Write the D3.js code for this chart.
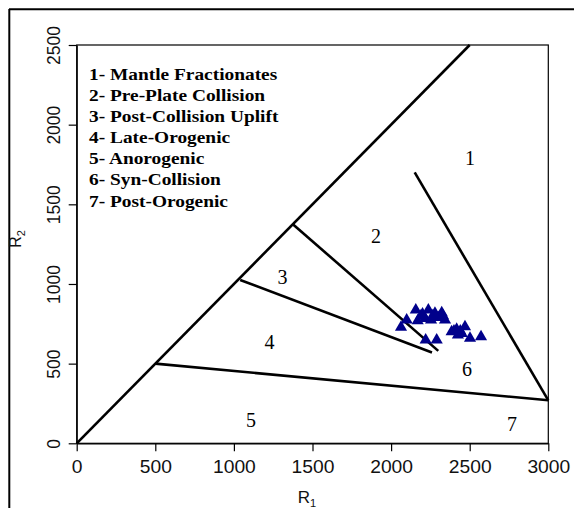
<!DOCTYPE html>
<html>
<head>
<meta charset="utf-8">
<script src="https://cdn.jsdelivr.net/npm/d3@7"></script>
<style>
  html, body { margin: 0; padding: 0; background: #fff; }
  svg { display: block; }
</style>
</head>
<body>
<svg id="chart" width="574" height="508"></svg>
<script>
// R1-R2 multicationic discrimination diagram (Batchelor & Bowden)

// Axis tick values
const xTicks = [0, 500, 1000, 1500, 2000, 2500, 3000];
const yTicks = [0, 500, 1000, 1500, 2000, 2500];

// Field boundary lines, as [R1, R2] vertices
const diagonalLine = [[0, 0], [2500, 2500]];
const mantleLine = [[2150, 1700], [3000, 270]];
const anorogenicLine = [[500, 500], [3000, 270]];
const prePlateLine = [[1375, 1375], [2300, 580]];
const lateOrogenicLine = [[1040, 1025], [2260, 570]];
const boundaries = [diagonalLine, mantleLine, anorogenicLine, prePlateLine, lateOrogenicLine];

// Field numbers and their positions [R1, R2]
const fieldNumbers = ["1", "2", "3", "4", "5", "6", "7"];
const fieldR1 = [2502, 1904, 1309, 1226, 1109, 2483, 2769];
const fieldR2 = [1790, 1300, 1046, 636, 146, 466, 124];

// Legend entries
const legendItems = [
  "1- Mantle Fractionates",
  "2- Pre-Plate Collision",
  "3- Post-Collision Uplift",
  "4- Late-Orogenic",
  "5- Anorogenic",
  "6- Syn-Collision",
  "7- Post-Orogenic"
];

// Sample compositions
const sampleR1 = [2063, 2099, 2157, 2169, 2237, 2216, 2279, 2322, 2343, 2254,
                  2220, 2290, 2385, 2417, 2470, 2449, 2502, 2572, 2425, 2190,
                  2200, 2300, 2265, 2400, 2440, 2330];
const sampleR2 = [728, 774, 836, 769, 836, 784, 816, 819, 774, 774,
                  648, 648, 700, 715, 731, 690, 659, 669, 680, 800,
                  812, 790, 800, 705, 705, 800];

const svg = d3.select("#chart");

// Outer frame (top and left edges)
svg.append("line").attr("x1", 9).attr("x2", 574).attr("y1", 9.3).attr("y2", 9.3)
  .attr("stroke", "#000").attr("stroke-width", 2);
svg.append("line").attr("x1", 9.3).attr("x2", 9.3).attr("y1", 9).attr("y2", 508)
  .attr("stroke", "#000").attr("stroke-width", 2);

const x = d3.scaleLinear().domain([0, 3000]).range([76.7, 548.3]);
const y = d3.scaleLinear().domain([0, 2500]).range([443.3, 45]);

// Plot box
svg.append("rect")
  .attr("x", x(0)).attr("y", y(2500))
  .attr("width", x(3000) - x(0)).attr("height", y(0) - y(2500))
  .attr("fill", "none").attr("stroke", "#000").attr("stroke-width", 1.2);

// X axis
const xAxis = svg.append("g")
  .attr("transform", `translate(0,${y(0)})`)
  .call(d3.axisBottom(x).tickValues(xTicks).tickSize(8).tickSizeOuter(0).tickFormat(d3.format("d")));
xAxis.select(".domain").attr("stroke-width", 1.2);
xAxis.selectAll(".tick line").attr("stroke-width", 1.2);
xAxis.selectAll(".tick text")
  .attr("font-family", "Liberation Sans, Arial, sans-serif")
  .attr("font-size", 17.5)
  .attr("fill", "#111")
  .attr("dy", null)
  .attr("y", 30)
  .attr("transform", "scale(1.1,1)");

// Y axis
const yAxis = svg.append("g")
  .attr("transform", `translate(${x(0)},0)`)
  .call(d3.axisLeft(y).tickValues(yTicks).tickSize(8).tickSizeOuter(0).tickFormat(d3.format("d")));
yAxis.select(".domain").attr("stroke-width", 1.2);
yAxis.selectAll(".tick line").attr("stroke-width", 1.2);
yAxis.selectAll(".tick text")
  .attr("x", null).attr("dy", null)
  .attr("text-anchor", "middle")
  .attr("font-family", "Liberation Sans, Arial, sans-serif")
  .attr("font-size", 17.5)
  .attr("fill", "#111")
  .attr("transform", "translate(-16.5,0) scale(1.1,1) rotate(-90)");

// Axis titles
const r1 = svg.append("text")
  .attr("x", 307).attr("y", 503)
  .attr("font-family", "Liberation Sans, Arial, sans-serif")
  .attr("font-size", 17).attr("fill", "#111")
  .attr("text-anchor", "middle");
r1.append("tspan").text("R");
r1.append("tspan").attr("font-size", 11).attr("dy", 4).text("1");

const r2 = svg.append("text")
  .attr("transform", "translate(21,239) rotate(-90)")
  .attr("font-family", "Liberation Sans, Arial, sans-serif")
  .attr("font-size", 16).attr("fill", "#111")
  .attr("text-anchor", "middle");
r2.append("tspan").text("R");
r2.append("tspan").attr("font-size", 11).attr("dy", 4).text("2");

// Field boundaries
const line = d3.line().x(d => x(d[0])).y(d => y(d[1]));
svg.append("g").selectAll("path")
  .data(boundaries)
  .join("path")
  .attr("d", line)
  .attr("fill", "none")
  .attr("stroke", "#000")
  .attr("stroke-width", 2.6)
  .attr("stroke-linecap", "butt");

// Field numbers
svg.append("g").selectAll("text")
  .data(fieldNumbers)
  .join("text")
  .attr("x", (d, i) => x(fieldR1[i]))
  .attr("y", (d, i) => y(fieldR2[i]))
  .attr("dy", "0.35em")
  .attr("text-anchor", "middle")
  .attr("font-family", "Liberation Serif, Times New Roman, serif")
  .attr("font-size", 20)
  .attr("fill", "#000")
  .text(d => d);

// Samples
svg.append("g").selectAll("path")
  .data(sampleR1.map((v, i) => [v, sampleR2[i]]))
  .join("path")
  .attr("transform", d => `translate(${x(d[0])},${y(d[1])})`)
  .attr("d", d3.symbol(d3.symbolTriangle, 64))
  .attr("fill", "#00008B");

// Legend
svg.append("g")
  .attr("transform", "translate(89,0) scale(1.14,1)")
  .selectAll("text")
  .data(legendItems)
  .join("text")
  .attr("x", 0)
  .attr("y", (d, i) => 80 + i * 21.1)
  .attr("font-family", "Liberation Serif, Times New Roman, serif")
  .attr("font-weight", "bold")
  .attr("font-size", 17)
  .attr("fill", "#000")
  .text(d => d);
</script>
</body>
</html>
